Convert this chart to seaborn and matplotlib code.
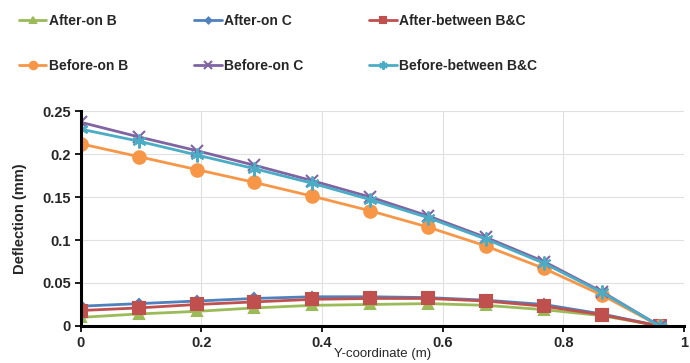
import numpy as np
import pandas as pd
import seaborn as sns
import matplotlib
matplotlib.use("Agg")
import matplotlib.pyplot as plt

y_coord = [0, 0.096, 0.192, 0.288, 0.384, 0.48, 0.576, 0.672, 0.768, 0.864, 0.96]

after_on_b = [0.010, 0.014, 0.017, 0.021, 0.024, 0.025, 0.026, 0.024, 0.019, 0.012, 0.0]
after_on_c = [0.023, 0.026, 0.029, 0.032, 0.034, 0.034, 0.033, 0.030, 0.025, 0.014, 0.0]
after_between = [0.018, 0.021, 0.025, 0.028, 0.031, 0.032, 0.032, 0.029, 0.023, 0.013, 0.0]
before_on_b = [0.212, 0.197, 0.182, 0.167, 0.151, 0.134, 0.115, 0.093, 0.067, 0.036, 0.0]
before_on_c = [0.237, 0.220, 0.204, 0.187, 0.169, 0.150, 0.128, 0.103, 0.075, 0.040, 0.0]
before_between = [0.229, 0.215, 0.199, 0.183, 0.166, 0.147, 0.126, 0.101, 0.073, 0.039, 0.0]

series_names = ["After-on B", "After-on C", "After-between B&C",
                "Before-on B", "Before-on C", "Before-between B&C"]
series_values = [after_on_b, after_on_c, after_between,
                 before_on_b, before_on_c, before_between]

colors = ["#9BBB59", "#4F81BD", "#C0504D", "#F79646", "#8064A2", "#4BACC6"]
markers = ["^", "D", "s", "o", "x", (6, 2, 0)]
msizes = [7, 5, 8, 9, 9, 10]

sns.set_theme(style="whitegrid")
plt.rcParams["font.family"] = ["Liberation Sans", "DejaVu Sans"]

fig = plt.figure(figsize=(6.9, 3.63), dpi=100)
ax = fig.add_axes([0.117, 0.102, 0.874, 0.592])

for name, vals, c, m, ms in zip(series_names, series_values, colors, markers, msizes):
    df = pd.DataFrame({"x": y_coord, "y": vals})
    sns.lineplot(data=df, x="x", y="y", ax=ax, color=c, marker=m, markersize=ms,
                 linewidth=2, label=name, markeredgecolor=c, markeredgewidth=1.5)

ax.set_xlim(0, 1)
ax.set_ylim(0, 0.25)
ax.set_xticks([0, 0.2, 0.4, 0.6, 0.8, 1])
ax.set_xticklabels(["0", "0.2", "0.4", "0.6", "0.8", "1"])
ax.set_yticks([0, 0.05, 0.1, 0.15, 0.2, 0.25])
ax.set_yticklabels(["0", "0.05", "0.1", "0.15", "0.2", "0.25"])
ax.tick_params(axis="both", labelsize=10.5, pad=3, length=4, color="black", direction="out")
for lbl in ax.get_xticklabels() + ax.get_yticklabels():
    lbl.set_fontweight("bold")
ax.tick_params(axis="x", bottom=True)
ax.tick_params(axis="y", left=True)
ax.grid(True, color="#E0E0E0", linewidth=0.8)
for s in ["top", "right"]:
    ax.spines[s].set_visible(False)
for s in ["left", "bottom"]:
    ax.spines[s].set_color("black")
    ax.spines[s].set_linewidth(2.2)
ax.set_xlabel("Y-coordinate (m)", fontsize=9.5, labelpad=-1.5)
ax.set_ylabel("Deflection (mm)", fontsize=10.5, fontweight="bold", labelpad=11)

handles, labels = ax.get_legend_handles_labels()
ax.get_legend().remove()
order = [0, 3, 1, 4, 2, 5]
leg = fig.legend([handles[i] for i in order], [labels[i] for i in order],
                 loc="upper left", bbox_to_anchor=(0.013, 0.988),
                 ncol=3, frameon=False, prop={"weight": "bold", "size": 10},
                 handlelength=2.0, handletextpad=0.15, columnspacing=4.75,
                 labelspacing=2.25, borderaxespad=0.3, markerscale=0.6)

fig.savefig("out.png", dpi=100)
